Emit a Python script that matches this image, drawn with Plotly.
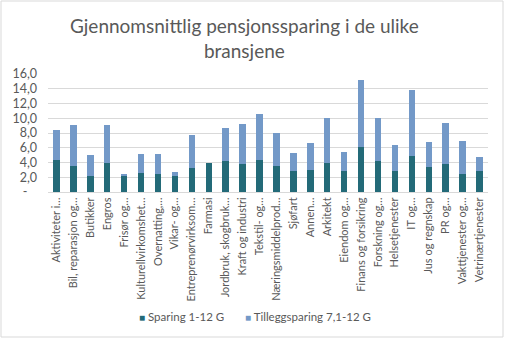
import plotly.graph_objects as go

# Industries (labels shortened as in the source workbook)
categories = [
    "Aktiviteter i…", "Bil, reparasjon og…", "Butikker", "Engros", "Frisør og…",
    "Kulturellvirkomshet…", "Overnatting,…", "Vikar- og…", "Entreprenørvirksom…",
    "Farmasi", "Jordbruk, skogbruk…", "Kraft og industri", "Tekstil- og…",
    "Næringsmiddelprod…", "Sjøfart", "Annen…", "Arkitekt", "Eiendom og…",
    "Finans og forsikring", "Forskning og…", "Helsetjenester", "IT og…",
    "Jus og regnskap", "PR og…", "Vakttjenester og…", "Vetrinærtjenester",
]

# Average saving 1-12 G
sparing = [4.3, 3.5, 2.2, 3.9, 2.3, 2.6, 2.4, 2.2, 3.3, 3.9, 4.2, 3.8, 4.3,
           3.5, 2.9, 3.0, 3.9, 2.9, 6.1, 4.2, 2.9, 4.9, 3.4, 3.8, 2.4, 2.9]

# Additional saving 7,1-12 G (stacked on top)
tillegg = [4.1, 5.6, 2.8, 5.2, 0.2, 2.6, 2.8, 0.5, 4.4, 0.0, 4.5, 5.4, 6.3,
           4.5, 2.4, 3.6, 6.1, 2.5, 9.1, 5.8, 3.5, 8.9, 3.4, 5.6, 4.5, 1.9]

series_names = ["Sparing 1-12 G", "Tilleggsparing 7,1-12 G"]
series_colors = ["#236A78", "#7399C8"]

y_ticks = [0, 2, 4, 6, 8, 10, 12, 14, 16]
y_tick_text = ["-\u00a0\u00a0\u00a0", "2,0", "4,0", "6,0", "8,0", "10,0", "12,0", "14,0", "16,0"]

FONT = "Lato"
TEXT = "#595959"

fig = go.Figure()
for vals, name, col in zip([sparing, tillegg], series_names, series_colors):
    fig.add_trace(go.Bar(x=categories, y=vals, name=name, showlegend=False,
                         marker=dict(color=col, line=dict(width=0))))

W, H = 507, 342
L, R, T, B = 48, 19, 74, 150
pw, ph = W - L - R, H - T - B

def px_x(p):
    return (p - L) / pw

def px_y(p):
    return (H - B - p) / ph

# legend drawn as text keys with small coloured squares
legend_left = [137, 243]
legend_notes = [
    dict(text=f"<span style='color:{col};font-size:10px'>■</span> {name}",
         xref="paper", yref="paper", x=px_x(x0), y=px_y(316),
         xanchor="left", yanchor="middle", showarrow=False,
         font=dict(family=FONT, size=11.5, color=TEXT))
    for name, col, x0 in zip(series_names, series_colors, legend_left)
]

fig.update_layout(
    width=W, height=H,
    barmode="stack", bargap=0.62,
    margin=dict(l=L, r=R, t=T, b=B, pad=0),
    paper_bgcolor="white", plot_bgcolor="white",
    font=dict(family=FONT, color=TEXT, size=11),
    showlegend=False,
    xaxis=dict(tickangle=-90, showgrid=False, ticks="",
               showline=True, linecolor="#D9D9D9", linewidth=1,
               tickfont=dict(family=FONT, size=11, color=TEXT)),
    yaxis=dict(range=[0, 16], tickvals=y_ticks, ticktext=y_tick_text,
               showgrid=True, gridcolor="#D9D9D9", gridwidth=1,
               zeroline=False, showline=False, ticks="",
               ticklabelstandoff=10,
               tickfont=dict(family=FONT, size=12.5, color=TEXT)),
    annotations=[dict(text="Gjennomsnittlig pensjonssparing i de ulike<br>bransjene",
                      xref="paper", yref="paper", x=px_x(244), y=px_y(12),
                      xanchor="center", yanchor="top", showarrow=False,
                      align="center",
                      font=dict(family=FONT, size=19, color=TEXT))] + legend_notes,
    shapes=[dict(type="rect", xref="paper", yref="paper",
                 x0=px_x(1), x1=px_x(503), y0=px_y(337), y1=px_y(1),
                 line=dict(color="#D9D9D9", width=1), fillcolor="rgba(0,0,0,0)",
                 layer="below")],
)

fig.write_html("out.html")
